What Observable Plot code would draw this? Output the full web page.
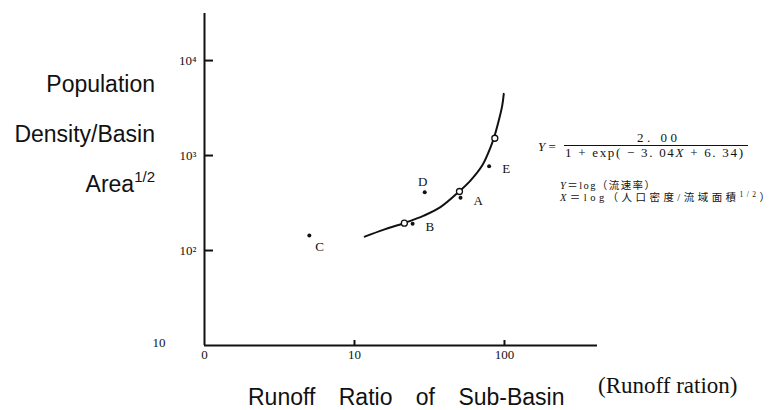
<!DOCTYPE html>
<html>
<head>
<meta charset="utf-8">
<script src="https://cdn.jsdelivr.net/npm/d3@7"></script>
<script src="https://cdn.jsdelivr.net/npm/@observablehq/plot@0.6"></script>
<style>
  html, body { margin: 0; padding: 0; background: #fff; }
  #chart { width: 778px; height: 410px; }
</style>
</head>
<body>
<div id="chart"></div>
<script>
// Observed sub-basins: runoff ratio vs population density / basin area^(1/2)
const stationNames = ["A", "B", "C", "D", "E"];
const stationRunoff = [50.9, 24.4, 5.0, 29.4, 79];
const stationDensity = [359, 191, 144, 411, 771];

// Fitted logistic curve, traced along its length
const curveRunoff = [11.7, 15.7, 21.3, 29.0, 37.4, 50.1, 59.3, 71.0, 80.7, 84.9, 91.6, 96.6, 98.9];
const curveDensity = [140, 166, 194, 233, 286, 421, 545, 785, 1222, 1520, 2336, 3357, 4460];

// Points of the fit marked with open circles
const fitRunoff = [21.5, 50.1, 86.2];
const fitDensity = [194, 418, 1520];

// Axis ticks and their printed labels
const xTicks = [1, 10, 100];
const xTickLabels = ["0", "10", "100"];
const yTicks = [100, 1000, 10000];
const yTickLabels = ["10²", "10³", "10⁴"];
const yBottomTick = [10];
const yBottomLabel = ["10"];

const stations = stationNames.map((name, i) => ({name, runoff: stationRunoff[i], density: stationDensity[i]}));
const curve = curveRunoff.map((r, i) => ({runoff: r, density: curveDensity[i]}));
const fit = fitRunoff.map((r, i) => ({runoff: r, density: fitDensity[i]}));

const ink = "#111";
const serif = "'Liberation Serif', 'DejaVu Serif', serif";
const W = 778, H = 410;
const margin = {left: 204, right: 181, top: 13, bottom: 65};
const frameW = W - margin.left - margin.right;
const frameH = H - margin.top - margin.bottom;

const chart = Plot.plot({
  width: W,
  height: H,
  marginLeft: margin.left,
  marginRight: margin.right,
  marginTop: margin.top,
  marginBottom: margin.bottom,
  style: {fontFamily: serif, fontSize: "13px", color: ink, background: "white"},
  x: {type: "log", domain: [1, 417], label: null},
  y: {type: "log", domain: [10, 31300], label: null},
  marks: [
    Plot.axisX(xTicks, {
      tickSize: 0, tickPadding: 4, fill: ink,
      tickFormat: (d) => xTickLabels[xTicks.indexOf(d)]
    }),
    Plot.axisY(yTicks, {
      tickSize: 0, tickPadding: 8, fill: ink,
      tickFormat: (d) => yTickLabels[yTicks.indexOf(d)]
    }),
    // short ticks pointing into the plot from each axis line
    Plot.tickY(yTicks, {y: (d) => d, insetRight: frameW - 9, stroke: ink, strokeWidth: 2}),
    Plot.tickX(xTicks.slice(1), {x: (d) => d, insetTop: frameH - 5, stroke: ink, strokeWidth: 2}),
    Plot.text(yBottomTick, {
      y: (d) => d, frameAnchor: "left", text: (d, i) => yBottomLabel[i],
      textAnchor: "end", dx: -39, dy: -3, fill: ink
    }),
    Plot.ruleX([1], {stroke: ink, strokeWidth: 2}),
    Plot.ruleY([10], {stroke: ink, strokeWidth: 2}),
    Plot.line(curve, {x: "runoff", y: "density", curve: "catmull-rom", stroke: ink, strokeWidth: 2}),
    Plot.dot(stations, {x: "runoff", y: "density", r: 2, fill: ink}),
    Plot.dot(fit, {x: "runoff", y: "density", r: 3, fill: "white", stroke: ink, strokeWidth: 1.3}),
    Plot.text(stations, {
      filter: (d) => ["A", "B", "E"].includes(d.name),
      x: "runoff", y: "density", text: "name", textAnchor: "start", dx: 13, dy: 3, fill: ink
    }),
    Plot.text(stations, {
      filter: (d) => d.name === "C",
      x: "runoff", y: "density", text: "name", textAnchor: "start", dx: 6, dy: 11, fill: ink
    }),
    Plot.text(stations, {
      filter: (d) => d.name === "D",
      x: "runoff", y: "density", text: "name", dx: -2, dy: -10, fill: ink
    })
  ]
});

document.getElementById("chart").appendChild(chart);

// Axis titles and the fitted equation
const svg = d3.select(chart);
const sans = "'Liberation Sans', Arial, sans-serif";

const yTitle = svg.append("g")
  .attr("font-family", sans).attr("font-size", 23).attr("fill", ink).attr("text-anchor", "end");
yTitle.append("text").attr("x", 155).attr("y", 92).text("Population");
yTitle.append("text").attr("x", 155).attr("y", 142).text("Density/Basin");
const area = yTitle.append("text").attr("x", 155).attr("y", 192);
area.append("tspan").text("Area");
area.append("tspan").attr("font-size", 15).attr("dy", -10).text("1/2");

svg.append("text")
  .attr("font-family", sans).attr("font-size", 23).attr("fill", ink).attr("text-anchor", "start")
  .attr("x", 248).attr("y", 405).attr("word-spacing", 17)
  .text("Runoff Ratio of Sub-Basin");

svg.append("text")
  .attr("font-family", serif).attr("font-size", 23).attr("fill", ink).attr("text-anchor", "start")
  .attr("x", 598).attr("y", 393)
  .text("(Runoff ration)");

const eq = svg.append("g").attr("font-family", serif).attr("fill", ink).attr("font-size", 13)
  .attr("text-anchor", "start");
const lhs = eq.append("text").attr("x", 538).attr("y", 151);
lhs.append("tspan").attr("font-style", "italic").text("Y");
lhs.append("tspan").text(" =");
eq.append("text").attr("x", 637).attr("y", 142)
  .attr("textLength", 40).attr("lengthAdjust", "spacing").text("2. 00");
eq.append("line").attr("x1", 564).attr("x2", 748).attr("y1", 145.5).attr("y2", 145.5)
  .attr("stroke", ink).attr("stroke-width", 1);
const den = eq.append("text").attr("x", 565).attr("y", 157)
  .attr("textLength", 178).attr("lengthAdjust", "spacing");
den.append("tspan").text("1 + exp( − 3. 04");
den.append("tspan").attr("font-style", "italic").text("X");
den.append("tspan").text(" + 6. 34)");

const cjk = "'Liberation Serif', 'Noto Sans CJK JP', serif";
const defs = svg.append("g").attr("font-family", cjk).attr("fill", ink).attr("font-size", 10.5)
  .attr("text-anchor", "start");
const l1 = defs.append("text").attr("x", 560).attr("y", 189)
  .attr("textLength", 95).attr("lengthAdjust", "spacing");
l1.append("tspan").attr("font-style", "italic").text("Y");
l1.append("tspan").text("＝log（流速率）");
const l2 = defs.append("text").attr("x", 560).attr("y", 201)
  .attr("textLength", 210).attr("lengthAdjust", "spacing");
l2.append("tspan").attr("font-style", "italic").text("X");
l2.append("tspan").text("＝log（人口密度/流域面積");
l2.append("tspan").attr("font-size", 7.5).attr("dy", -4).text("1/2");
l2.append("tspan").attr("dy", 4).text("）");
</script>
</body>
</html>
